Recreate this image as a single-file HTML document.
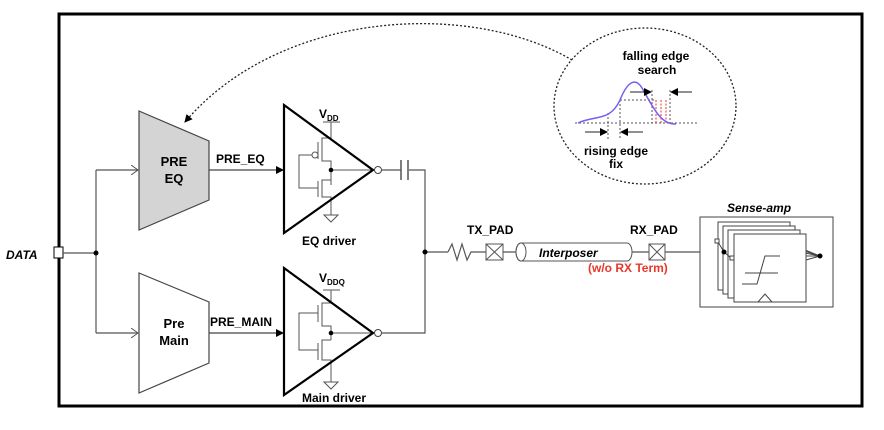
<!DOCTYPE html>
<html><head><meta charset="utf-8"><style>
html,body{margin:0;padding:0;background:#fff;}
svg{display:block;font-family:"Liberation Sans",Arial,sans-serif;}
</style></head><body>
<svg width="884" height="430" viewBox="0 0 884 430" xmlns="http://www.w3.org/2000/svg">
<defs>
<marker id="ah" markerWidth="8" markerHeight="8" refX="7" refY="4" orient="auto" markerUnits="userSpaceOnUse"><path d="M0,0 L8,4 L0,8 z" fill="#000"/></marker>
<marker id="oh" markerWidth="8" markerHeight="10" refX="7" refY="5" orient="auto" markerUnits="userSpaceOnUse"><path d="M0,0 L7,5 L0,10" fill="none" stroke="#555" stroke-width="1"/></marker>
</defs>
<rect x="59" y="14" width="803" height="392" fill="none" stroke="#000" stroke-width="3"/>

<!-- DATA -->
<text x="6" y="259" font-size="12" font-weight="bold" font-style="italic">DATA</text>
<rect x="54" y="247" width="9" height="11" fill="#fff" stroke="#000" stroke-width="1"/>
<g stroke="#555" stroke-width="1.2" fill="none">
<path d="M63,253 H96 M96,170 V333"/>
<path d="M96,170 H138" marker-end="url(#oh)"/>
<path d="M96,333 H138" marker-end="url(#oh)"/>
</g>
<circle cx="96" cy="253" r="2.5" fill="#000"/>

<!-- PRE blocks -->
<polygon points="139,111 209,141 209,200 139,230" fill="#d4d4d4" stroke="#444" stroke-width="1.2"/>
<text x="174" y="166" font-size="13" font-weight="bold" text-anchor="middle">PRE</text>
<text x="174" y="183" font-size="13" font-weight="bold" text-anchor="middle">EQ</text>
<polygon points="139,273 209,302 209,363 139,393" fill="#fff" stroke="#444" stroke-width="1.2"/>
<text x="174" y="328" font-size="13" font-weight="bold" text-anchor="middle">Pre</text>
<text x="174" y="345" font-size="13" font-weight="bold" text-anchor="middle">Main</text>

<line x1="209" y1="170" x2="283" y2="170" stroke="#444" stroke-width="1.2" marker-end="url(#ah)"/>
<text x="216" y="163" font-size="12" font-weight="bold">PRE_EQ</text>
<line x1="209" y1="333" x2="283" y2="333" stroke="#444" stroke-width="1.2" marker-end="url(#ah)"/>
<text x="210" y="326" font-size="12" font-weight="bold">PRE_MAIN</text>

<!-- EQ driver -->
<g stroke="#555" stroke-width="1" fill="none">
<path d="M331,122 V138 H322 V161 H331 V175 M331,185 V180 H322 V197 H331 V210 M322,138 V161 M322,180 V197 M318,142 V159 M318,181 V197 M331,170 H373 M331,161 V180"/>
<circle cx="315" cy="155" r="3" fill="#fff"/>
<path d="M312,155 H299 V188 H318"/>
<path d="M323,122 H340 M331,210 V215 M324,215 H338 L331,222 Z"/>
</g>
<circle cx="331" cy="170" r="2.3" fill="#000"/>
<polygon points="284,105 373,170 284,233" fill="none" stroke="#000" stroke-width="2.2"/>
<circle cx="378" cy="170" r="3.5" fill="#fff" stroke="#444" stroke-width="1"/>
<text x="319" y="118" font-size="12" font-weight="bold">V<tspan font-size="8" dy="3">DD</tspan></text>
<text x="302" y="245" font-size="12" font-weight="bold">EQ driver</text>

<!-- Main driver -->
<g stroke="#555" stroke-width="1" fill="none">
<path d="M331,290 V303 H322 V326 H331 V333 M331,340 H322 V360 H331 V378 M322,303 V326 M322,340 V360 M318,305 V322 M318,343 V360 M331,333 H373 M331,326 V340"/>
<path d="M318,313 H299 V350 H318"/>
<path d="M323,290 H340 M331,378 V382 M324,382 H338 L331,389 Z"/>
</g>
<circle cx="331" cy="333" r="2.3" fill="#000"/>
<polygon points="284,268 373,333 284,395" fill="none" stroke="#000" stroke-width="2.2"/>
<circle cx="378" cy="333" r="3.5" fill="#fff" stroke="#444" stroke-width="1"/>
<text x="319" y="282" font-size="12" font-weight="bold">V<tspan font-size="8" dy="3">DDQ</tspan></text>
<text x="302" y="402" font-size="12" font-weight="bold">Main driver</text>

<!-- Cap & bus -->
<g stroke="#555" stroke-width="1.2" fill="none">
<path d="M382,170 H401 M409,170 H425 V333 H382 M425,252 H448"/>
<path d="M401,160 V180 M408,160 V180" stroke-width="1.5"/>
<path d="M448,252 L452,244 L457,260 L462,244 L467,260 L471,252 H486 M503,252 H516 M632,252 H649 M665,252 H724"/>
</g>
<circle cx="425" cy="252" r="2.5" fill="#000"/>
<rect x="486" y="244" width="17" height="16" fill="#fff" stroke="#555"/>
<path d="M486,244 L503,260 M503,244 L486,260" stroke="#555"/>
<rect x="649" y="244" width="16" height="16" fill="#fff" stroke="#555"/>
<path d="M649,244 L665,260 M665,244 L649,260" stroke="#555"/>
<path d="M521,243 H627 A5,9 0 0 1 627,261 H521 A5,9 0 0 1 521,243 Z" fill="#fff" stroke="#555"/>
<ellipse cx="521" cy="252" rx="5" ry="9" fill="none" stroke="#555"/>
<text x="539" y="257" font-size="12" font-weight="bold" font-style="italic">Interposer</text>
<text x="467" y="234" font-size="12" font-weight="bold">TX_PAD</text>
<text x="630" y="234" font-size="12" font-weight="bold">RX_PAD</text>
<text x="588" y="272" font-size="12" font-weight="bold" fill="#e8382a">(w/o RX Term)</text>

<!-- Sense-amp -->
<text x="727" y="212" font-size="12" font-weight="bold" font-style="italic">Sense-amp</text>
<rect x="700" y="217" width="133" height="90" fill="#fff" stroke="#444"/>
<g stroke="#444" fill="none">
<path d="M790,244 L820,256 M795,248 L820,256 M800,252 L820,256 M806,256 L820,256 M806,260 L820,256"/>
</g>
<rect x="718" y="222" width="72" height="68" fill="#fff" stroke="#444"/>
<rect x="723" y="226" width="72" height="68" fill="#fff" stroke="#444"/>
<rect x="728" y="230" width="72" height="68" fill="#fff" stroke="#444"/>
<rect x="734" y="234" width="72" height="68" fill="#fff" stroke="#444"/>
<g stroke="#444" fill="none">
<path d="M742,284 H757 L765,256 H780 M745,273 H778"/>
<path d="M758,302 L765,294 L772,302"/>
<path d="M718,242 L724,252 L731,258" />
</g>
<rect x="715" y="239" width="4" height="4" fill="#fff" stroke="#444"/>
<rect x="730" y="256" width="4" height="4" fill="#fff" stroke="#444"/>
<circle cx="724" cy="252" r="2.5" fill="#000"/>
<circle cx="820" cy="256" r="2.5" fill="#000"/>

<!-- Ellipse inset -->
<ellipse cx="645" cy="106" rx="91" ry="78" fill="none" stroke="#222" stroke-width="1.3" stroke-dasharray="2,2"/>
<path d="M572,60 C470,0 280,10 185,122" fill="none" stroke="#222" stroke-width="1.3" stroke-dasharray="2,2" marker-end="url(#ah)"/>
<g stroke="#555" stroke-width="1" stroke-dasharray="2,2" fill="none">
<path d="M575,123 H697 M620,100 H655 M608,113 V140 M620,100 V140 M652,90 V123 M670,90 V123"/>
</g>
<g stroke="#e8382a" stroke-width="1" stroke-dasharray="2,1.5">
<path d="M656,100 V123 M661,100 V123 M666,100 V123"/>
</g>
<path d="M578,123 C595,115 610,122 620,100 C628,80 636,78 642,88 C652,105 660,125 676,124" fill="none" stroke="#7a5cf0" stroke-width="1.5"/>
<g stroke="#222" stroke-width="1">
<line x1="630" y1="92" x2="651" y2="92" marker-end="url(#ah)"/>
<line x1="692" y1="92" x2="671" y2="92" marker-end="url(#ah)"/>
<line x1="585" y1="132" x2="607" y2="132" marker-end="url(#ah)"/>
<line x1="643" y1="132" x2="621" y2="132" marker-end="url(#ah)"/>
</g>
<text x="656" y="60" font-size="12" font-weight="bold" text-anchor="middle">falling edge</text>
<text x="657" y="74" font-size="12" font-weight="bold" text-anchor="middle">search</text>
<text x="616" y="155" font-size="12" font-weight="bold" text-anchor="middle">rising edge</text>
<text x="616" y="168" font-size="12" font-weight="bold" text-anchor="middle">fix</text>
</svg>
</body></html>
